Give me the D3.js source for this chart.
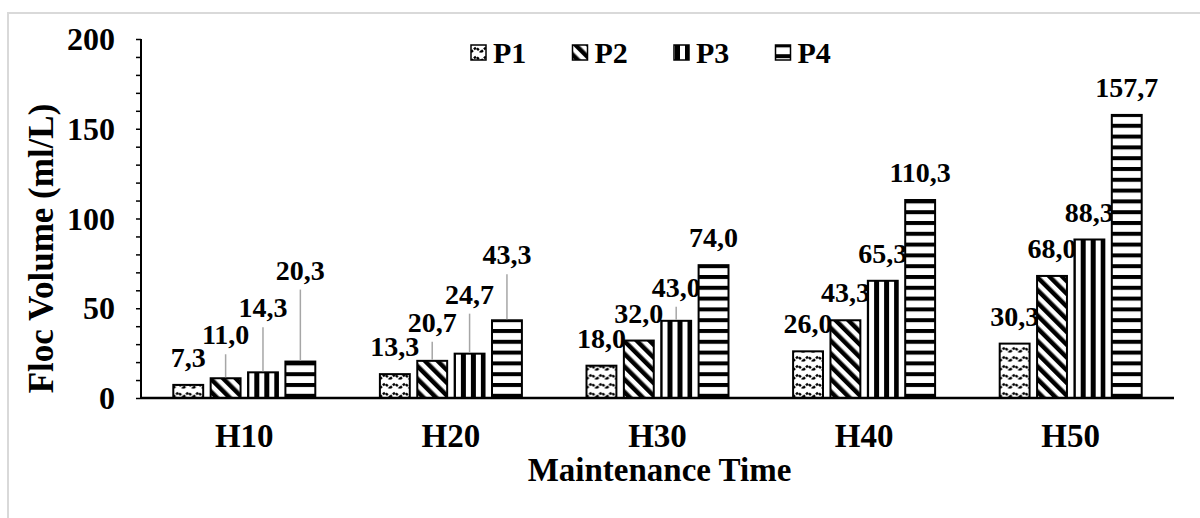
<!DOCTYPE html>
<html>
<head>
<meta charset="utf-8">
<script src="https://cdn.jsdelivr.net/npm/d3@7"></script>
<style>
  body { margin: 0; background: #fff; }
  text { font-family: "Liberation Serif", "Times New Roman", serif; font-weight: bold; fill: #000; }
</style>
</head>
<body>
<svg width="1200" height="518"></svg>
<script>
// chart data
var categories = ["H10", "H20", "H30", "H40", "H50"];
var series = ["P1", "P2", "P3", "P4"];
var p1 = [7.3, 13.3, 18.0, 26.0, 30.3];
var p2 = [11.0, 20.7, 32.0, 43.3, 68.0];
var p3 = [14.3, 24.7, 43.0, 65.3, 88.3];
var p4 = [20.3, 43.3, 74.0, 110.3, 157.7];
var yTicks = [0, 50, 100, 150, 200];

// how far some labels are pushed up (px), as in the original
var labelLift = {P1: [0, 0, 0, 0, 0], P2: [16, 11, 0, 0, 0], P3: [37, 32, 6, 0, 0], P4: [64, 38, 0, 0, 0]};

var values = {P1: p1, P2: p2, P3: p3, P4: p4};

var svg = d3.select("svg"),
    margin = {top: 39, right: 26, bottom: 120, left: 141},
    width = +svg.attr("width") - margin.left - margin.right,
    height = +svg.attr("height") - margin.top - margin.bottom;

var fmt = d3.formatLocale({decimal: ",", thousands: ".", grouping: [3], currency: ["", ""]}).format(".1f");

// outer frame
svg.append("rect")
    .attr("x", 8).attr("y", 13)
    .attr("width", 1200).attr("height", 600)
    .attr("fill", "none")
    .attr("stroke", "#d9d9d9")
    .attr("stroke-width", 2);

// fill patterns
var defs = svg.append("defs");

var pz = defs.append("pattern").attr("id", "pat-P1")
    .attr("patternUnits", "userSpaceOnUse").attr("width", 10).attr("height", 9);
pz.append("rect").attr("width", 10).attr("height", 9).attr("fill", "#fff");
pz.append("path").attr("d", "M0,7 L5,2.5 L10,7")
    .attr("fill", "none").attr("stroke", "#000").attr("stroke-width", 2.4)
    .attr("stroke-dasharray", "2.6,1.4");

var pd = defs.append("pattern").attr("id", "pat-P2")
    .attr("patternUnits", "userSpaceOnUse").attr("width", 9).attr("height", 9)
    .attr("patternTransform", "rotate(-45)");
pd.append("rect").attr("width", 9).attr("height", 9).attr("fill", "#fff");
pd.append("rect").attr("width", 4.5).attr("height", 9).attr("fill", "#000");

var pv = defs.append("pattern").attr("id", "pat-P3")
    .attr("patternUnits", "userSpaceOnUse").attr("width", 10).attr("height", 10)
    .attr("x", 1);
pv.append("rect").attr("width", 10).attr("height", 10).attr("fill", "#fff");
pv.append("rect").attr("width", 5).attr("height", 10).attr("fill", "#000");

var ph = defs.append("pattern").attr("id", "pat-P4")
    .attr("patternUnits", "userSpaceOnUse").attr("width", 10).attr("height", 10.8)
    .attr("y", 398);
ph.append("rect").attr("width", 10).attr("height", 10.8).attr("fill", "#fff");
ph.append("rect").attr("width", 10).attr("height", 4).attr("fill", "#000");

var chart = svg.append("g").attr("transform", "translate(" + margin.left + "," + margin.top + ")");

var x0 = d3.scaleBand().domain(categories).range([0, width]);
var groupW = 142;
var x1 = d3.scaleBand().domain(series).range([0, groupW]).paddingInner(0.2);
var y = d3.scaleLinear().domain([0, 200]).range([height, 0]);

// y axis
var yAxis = chart.append("g")
    .call(d3.axisLeft(y).tickValues(d3.range(0, 201, 10)).tickSize(5).tickFormat(""));
yAxis.select(".domain").attr("stroke-width", 2).attr("d", "M0," + height + "V0");
yAxis.selectAll(".tick line").attr("stroke-width", 1.5);

chart.selectAll(".ylab")
    .data(yTicks)
  .enter().append("text")
    .attr("class", "ylab")
    .attr("x", -26)
    .attr("y", function(d) { return y(d); })
    .attr("dy", "0.35em")
    .attr("text-anchor", "end")
    .style("font-size", "32px")
    .text(function(d) { return d; });

// bars
var groups = chart.selectAll(".grp")
    .data(categories)
  .enter().append("g")
    .attr("class", "grp")
    .attr("transform", function(d) { return "translate(" + (x0(d) + (x0.bandwidth() - groupW) / 2) + ",0)"; });

var cells = groups.selectAll(".cell")
    .data(function(c, ci) {
        return series.map(function(s) { return {cat: c, ci: ci, s: s, v: values[s][ci]}; });
    })
  .enter().append("g").attr("class", "cell");

cells.append("rect")
    .attr("x", function(d) { return x1(d.s); })
    .attr("y", function(d) { return y(d.v); })
    .attr("width", x1.bandwidth())
    .attr("height", function(d) { return height - y(d.v); })
    .attr("fill", function(d) { return "url(#pat-" + d.s + ")"; })
    .attr("stroke", "#000")
    .attr("stroke-width", 2);

// leader lines for labels pushed upward
cells.filter(function(d) { return labelLift[d.s][d.ci] > 0; })
  .append("line")
    .attr("x1", function(d) { return x1(d.s) + x1.bandwidth() / 2; })
    .attr("x2", function(d) { return x1(d.s) + x1.bandwidth() / 2; })
    .attr("y1", function(d) { return y(d.v) - 18 - labelLift[d.s][d.ci] + 10; })
    .attr("y2", function(d) { return y(d.v) - 1; })
    .attr("stroke", "#a6a6a6")
    .attr("stroke-width", 1.5);

cells.append("text")
    .attr("x", function(d) { return x1(d.s) + x1.bandwidth() / 2; })
    .attr("y", function(d) { return y(d.v) - 18 - labelLift[d.s][d.ci]; })
    .attr("text-anchor", "middle")
    .style("font-size", "28px")
    .text(function(d) { return fmt(d.v); });

// x axis
chart.append("line")
    .attr("x1", 0).attr("x2", width)
    .attr("y1", height).attr("y2", height)
    .attr("stroke", "#000").attr("stroke-width", 2.5);

chart.selectAll(".xlab")
    .data(categories)
  .enter().append("text")
    .attr("class", "xlab")
    .attr("x", function(d) { return x0(d) + x0.bandwidth() / 2; })
    .attr("y", height + 49)
    .attr("text-anchor", "middle")
    .style("font-size", "33px")
    .text(function(d) { return d; });

// axis titles
svg.append("text")
    .attr("x", margin.left + width / 2 + 2)
    .attr("y", 481)
    .attr("text-anchor", "middle")
    .style("font-size", "33px")
    .text("Maintenance Time");

svg.append("text")
    .attr("transform", "translate(53," + (margin.top + height / 2 + 30) + ") rotate(-90)")
    .attr("text-anchor", "middle")
    .style("font-size", "35px")
    .text("Floc Volume (ml/L)");

// legend
var legend = svg.selectAll(".leg")
    .data(series)
  .enter().append("g")
    .attr("class", "leg")
    .attr("transform", function(d, i) { return "translate(" + (471 + i * 101.5) + ",45)"; });

legend.append("rect")
    .attr("width", 15).attr("height", 15)
    .attr("fill", function(d) { return "url(#pat-" + d + ")"; })
    .attr("stroke", "#000").attr("stroke-width", 1.5);

legend.append("text")
    .attr("x", 22).attr("y", 18)
    .style("font-size", "30px")
    .text(function(d) { return d; });
</script>
</body>
</html>
